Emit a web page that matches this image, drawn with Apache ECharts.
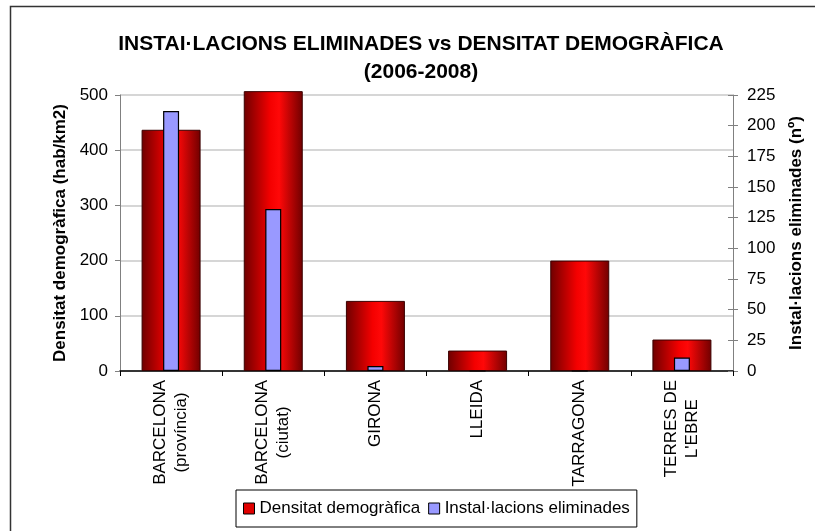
<!DOCTYPE html>
<html>
<head>
<meta charset="utf-8">
<script src="https://cdn.jsdelivr.net/npm/echarts@6/dist/echarts.min.js"></script>
<style>
  html, body { margin: 0; padding: 0; background: #fff; }
  #chart { width: 815px; height: 531px; }
</style>
</head>
<body>
<div id="chart"></div>
<script>
// Regions of Catalonia
const categories = [
  'BARCELONA\n(província)',
  'BARCELONA\n(ciutat)',
  'GIRONA',
  'LLEIDA',
  'TARRAGONA',
  'TERRES DE\nL\'EBRE'
];
// Population density (hab/km2), left axis
const densitat = [437, 507, 127, 37, 200, 57];
// Removed installations (count), right axis
const installacions = [212, 132, 4, 0, 0, 11];

const leftTicks = { min: 0, max: 500, interval: 100 };
const rightTicks = { min: 0, max: 225, interval: 25 };

const FONT = '"Liberation Sans", Arial, sans-serif';

const redGradient = new echarts.graphic.LinearGradient(0, 0, 1, 0, [
  { offset: 0, color: '#6e0000' },
  { offset: 0.45, color: '#f40000' },
  { offset: 0.6, color: '#ff0808' },
  { offset: 1, color: '#700000' }
]);

const chart = echarts.init(document.getElementById('chart'), null, { renderer: 'canvas' });

chart.setOption({
  backgroundColor: '#ffffff',
  animation: false,
  textStyle: { fontFamily: FONT },
  graphic: [{
    type: 'rect',
    left: 8, top: 4,
    shape: { width: 900, height: 700 },
    style: { fill: 'none', stroke: '#333333', lineWidth: 1.5 },
    silent: true,
    z: -1
  }],
  title: {
    text: 'INSTAI·LACIONS ELIMINADES vs DENSITAT DEMOGRÀFICA\n(2006-2008)',
    left: 416,
    textAlign: 'center',
    top: 25,
    textStyle: {
      fontFamily: FONT,
      fontSize: 21,
      fontWeight: 'bold',
      color: '#000',
      lineHeight: 28
    }
  },
  legend: {
    left: 236,
    bottom: 4,
    orient: 'horizontal',
    icon: 'rect',
    itemWidth: 11,
    itemHeight: 11,
    itemGap: 8,
    padding: [10, 7, 10, 7],
    borderColor: '#000',
    borderWidth: 1,
    textStyle: { fontFamily: FONT, fontSize: 17, color: '#000' },
    data: [
      { name: 'Densitat demogràfica', itemStyle: { color: '#e00000', borderColor: '#000', borderWidth: 1 } },
      { name: 'Instal·lacions eliminades', itemStyle: { color: '#9999ff', borderColor: '#000', borderWidth: 1 } }
    ]
  },
  grid: { left: 120, right: 82, top: 95, bottom: 160 },
  xAxis: [{
    type: 'category',
    data: categories,
    boundaryGap: true,
    axisLine: { lineStyle: { color: '#000', width: 1.5 } },
    axisTick: { show: true, length: 5, lineStyle: { color: '#000' } },
    axisLabel: {
      rotate: 90,
      margin: 9,
      interval: 0,
      formatter: v => v.split('\n').map(l => '{c|' + l + '}').join('\n'),
      rich: {
        c: { fontFamily: FONT, fontSize: 17, color: '#000', align: 'center', lineHeight: 21 }
      }
    }
  }, {
    type: 'category',
    data: categories,
    show: false
  }],
  yAxis: [{
    type: 'value',
    position: 'left',
    min: leftTicks.min, max: leftTicks.max, interval: leftTicks.interval,
    name: 'Densitat demogràfica (hab/km2)',
    nameLocation: 'middle',
    nameGap: 51,
    nameTextStyle: { fontFamily: FONT, fontSize: 17, fontWeight: 'bold', color: '#000' },
    axisLine: { show: true, lineStyle: { color: '#808080' } },
    axisTick: { show: true, length: 5, lineStyle: { color: '#808080' } },
    axisLabel: { fontFamily: FONT, fontSize: 17, color: '#000', margin: 12 },
    splitLine: { show: true, lineStyle: { color: '#c8c8c8', width: 1.5 } }
  }, {
    type: 'value',
    position: 'right',
    min: rightTicks.min, max: rightTicks.max, interval: rightTicks.interval,
    name: 'Instal·lacions eliminades (nº)',
    nameLocation: 'middle',
    nameGap: 55,
    nameRotate: 90,
    nameTextStyle: { fontFamily: FONT, fontSize: 17, fontWeight: 'bold', color: '#000' },
    axisLine: { show: true, lineStyle: { color: '#808080' } },
    axisTick: { show: true, length: 5, lineStyle: { color: '#808080' } },
    axisLabel: { fontFamily: FONT, fontSize: 17, color: '#000', margin: 14 },
    splitLine: { show: false }
  }, {
    // inner half of the right-axis cross ticks
    type: 'value',
    position: 'right',
    min: rightTicks.min, max: rightTicks.max, interval: rightTicks.interval,
    axisLine: { show: false },
    axisTick: { show: true, inside: true, length: 5, lineStyle: { color: '#808080' } },
    axisLabel: { show: false },
    splitLine: { show: false }
  }],
  series: [{
    name: 'Densitat demogràfica',
    type: 'bar',
    xAxisIndex: 0,
    yAxisIndex: 0,
    data: densitat,
    barWidth: 59,
    clip: false,
    itemStyle: { color: redGradient, borderColor: '#3a0000', borderWidth: 1 }
  }, {
    name: 'Instal·lacions eliminades',
    type: 'bar',
    xAxisIndex: 1,
    yAxisIndex: 1,
    data: installacions,
    barWidth: 16,
    itemStyle: { color: '#9999ff', borderColor: '#000', borderWidth: 1.2 }
  }]
});
</script>
</body>
</html>
